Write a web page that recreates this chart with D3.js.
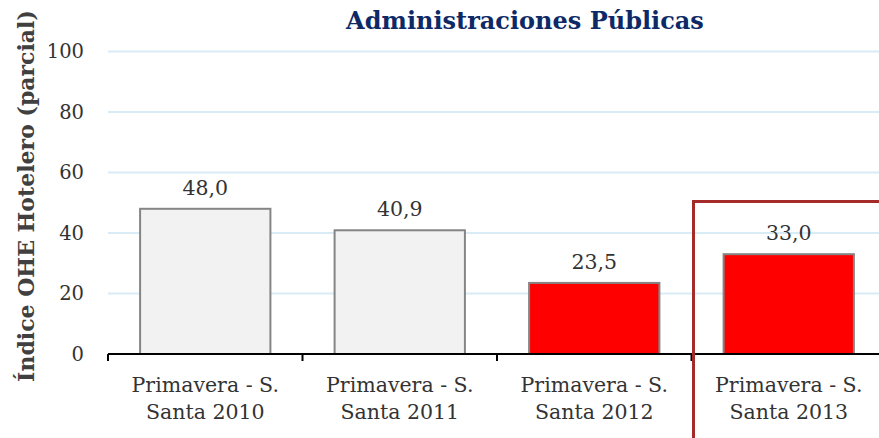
<!DOCTYPE html>
<html>
<head>
<meta charset="utf-8">
<script src="https://cdn.jsdelivr.net/npm/d3@7"></script>
<style>
  html, body { margin: 0; padding: 0; background: #fff; }
  svg { display: block; }
  text { font-family: "DejaVu Serif", Georgia, serif; }
</style>
</head>
<body>
<svg id="chart" width="879" height="438"></svg>
<script>
// Índice OHE Hotelero (parcial) – Administraciones Públicas
const categories = [
  ["Primavera - S.", "Santa 2010"],
  ["Primavera - S.", "Santa 2011"],
  ["Primavera - S.", "Santa 2012"],
  ["Primavera - S.", "Santa 2013"]
];
const values = [48.0, 40.9, 23.5, 33.0];
const fills = ["#f2f2f2", "#f2f2f2", "#ff0000", "#ff0000"];
const yTicks = [0, 20, 40, 60, 80, 100];
const title = "Administraciones Públicas";
const yTitle = "Índice OHE Hotelero (parcial)";

const svg = d3.select("#chart");
const plotLeft = 108, plotBottom = 354, plotTop = 51.5;
const bandWidth = 194.5;

const x = d3.scaleBand()
  .domain(d3.range(categories.length))
  .range([plotLeft, plotLeft + bandWidth * categories.length])
  .paddingInner(0.33)
  .paddingOuter(0.165);

const y = d3.scaleLinear().domain([0, 100]).range([plotBottom, plotTop]);

// gridlines
svg.append("g").selectAll("line")
  .data(yTicks.filter(d => d > 0))
  .join("line")
  .attr("x1", plotLeft).attr("x2", 879)
  .attr("y1", d => y(d)).attr("y2", d => y(d))
  .attr("stroke", "#d9ecf5").attr("stroke-width", 2);

// y tick labels
svg.append("g").selectAll("text")
  .data(yTicks)
  .join("text")
  .attr("x", 84).attr("y", d => y(d))
  .attr("dy", "0.35em")
  .attr("text-anchor", "end")
  .attr("fill", "#333")
  .attr("font-size", 19.5)
  .text(d => d);

// bars
svg.append("g").selectAll("rect")
  .data(values)
  .join("rect")
  .attr("x", (d, i) => x(i))
  .attr("y", d => y(d))
  .attr("width", x.bandwidth())
  .attr("height", d => y(0) - y(d))
  .attr("fill", (d, i) => fills[i])
  .attr("stroke", "#858585")
  .attr("stroke-width", 2);

// value labels
svg.append("g").selectAll("text")
  .data(values)
  .join("text")
  .attr("x", (d, i) => x(i) + x.bandwidth() / 2)
  .attr("y", d => y(d) - 14)
  .attr("text-anchor", "middle")
  .attr("fill", "#333")
  .attr("font-size", 20.5)
  .text(d => d.toFixed(1).replace(".", ","));

// x axis line and ticks
svg.append("line")
  .attr("x1", plotLeft).attr("x2", 879)
  .attr("y1", plotBottom).attr("y2", plotBottom)
  .attr("stroke", "#000").attr("stroke-width", 2);
svg.append("g").selectAll("line")
  .data(d3.range(categories.length + 1))
  .join("line")
  .attr("x1", i => plotLeft + i * bandWidth).attr("x2", i => plotLeft + i * bandWidth)
  .attr("y1", plotBottom).attr("y2", plotBottom + 7)
  .attr("stroke", "#000").attr("stroke-width", 2);

// category labels
const cat = svg.append("g").selectAll("text")
  .data(categories)
  .join("text")
  .attr("text-anchor", "middle")
  .attr("fill", "#333")
  .attr("font-size", 20.5);
cat.each(function (lines, i) {
  const cx = x(i) + x.bandwidth() / 2;
  d3.select(this).selectAll("tspan")
    .data(lines)
    .join("tspan")
    .attr("x", cx)
    .attr("y", (l, j) => 392 + j * 27)
    .text(l => l);
});

// highlight frame around the latest period
svg.append("rect")
  .attr("x", 693.5).attr("y", 201.5)
  .attr("width", 300).attr("height", 300)
  .attr("fill", "none")
  .attr("stroke", "#a52a2a").attr("stroke-width", 3);

// title
svg.append("text")
  .attr("x", 525).attr("y", 29)
  .attr("text-anchor", "middle")
  .attr("fill", "#0e2a66")
  .attr("font-weight", "bold")
  .attr("font-size", 24)
  .text(title);

// y axis title
svg.append("text")
  .attr("transform", "translate(34,196) rotate(-90)")
  .attr("text-anchor", "middle")
  .attr("fill", "#404040")
  .attr("font-weight", "bold")
  .attr("font-size", 22)
  .text(yTitle);
</script>
</body>
</html>
